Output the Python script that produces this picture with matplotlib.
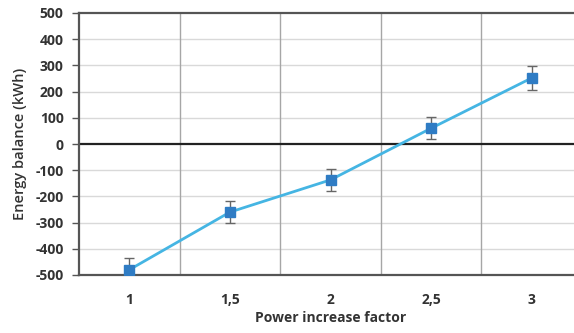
import matplotlib
matplotlib.use("Agg")
import matplotlib.pyplot as plt
import numpy as np

categories = ["1", "1,5", "2", "2,5", "3"]
values = [-480, -260, -137, 60, 252]
errors = [45, 41, 43, 42, 44]
yticks = [-500, -400, -300, -200, -100, 0, 100, 200, 300, 400, 500]

plt.rcParams['font.family'] = ['Open Sans', 'DejaVu Sans']

fig = plt.figure(figsize=(5.74, 3.33), dpi=100)
ax = fig.add_axes([79/574, 58/333, 503/574, 262/333])

x = np.arange(len(categories))
ax.set_xlim(-0.5, len(categories) - 0.5)
ax.set_ylim(-500, 500)

# grid
ax.set_yticks(yticks)
ax.set_yticklabels([str(v) for v in yticks], fontsize=10, fontweight='bold', color='#333333')
for v in yticks:
    if v not in (-500, 0, 500):
        ax.axhline(v, color='#d9d9d9', lw=1.0, zorder=0)
for b in np.arange(0.5, len(categories) - 0.5, 1):
    ax.axvline(b, color='#a6a6a6', lw=1.0, zorder=0)
ax.axhline(0, color='#222222', lw=1.6, zorder=1)

ax.set_xticks(x)
ax.set_xticklabels(categories, fontsize=10, fontweight='bold', color='#333333')
ax.tick_params(axis='x', length=0, pad=13)
ax.tick_params(axis='y', length=5, width=1, color='#555555', pad=6)

for s in ['top', 'bottom', 'left']:
    ax.spines[s].set_color('#555555')
    ax.spines[s].set_linewidth(1.6)
ax.spines['right'].set_visible(False)

ax.errorbar(x, values, yerr=errors, fmt='none', ecolor='#666666', elinewidth=1.0,
            capsize=3.5, capthick=1.0, zorder=3)
ax.plot(x, values, color='#45b5e3', lw=2.0, zorder=2)
ax.plot(x, values, ls='none', marker='s', ms=7, color='#2f7cc4', zorder=4)

ax.set_xlabel("Power increase factor", fontsize=10, fontweight='bold', color='#333333', labelpad=3)
ax.set_ylabel("Energy balance (kWh)", fontsize=10.5, fontweight='semibold', color='#333333', labelpad=6)

fig.savefig("out.png", dpi=100)
